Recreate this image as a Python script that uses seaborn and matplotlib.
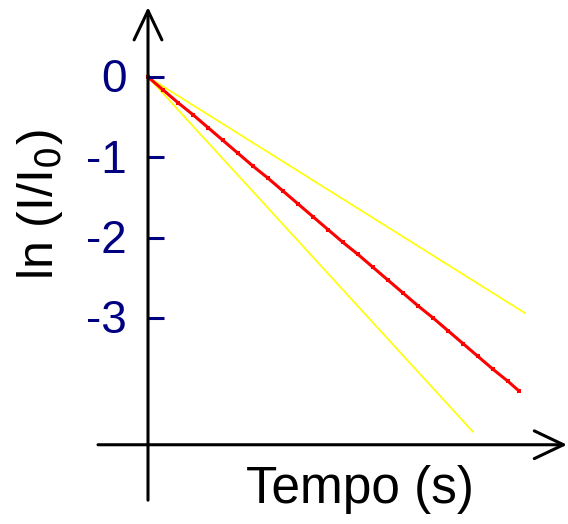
import matplotlib
matplotlib.use("Agg")
import matplotlib.pyplot as plt
import numpy as np
import pandas as pd
import seaborn as sns

# ---- data ----
tempo_red = [0.00, 0.15, 0.30, 0.45, 0.60, 0.75, 0.90, 1.05, 1.20, 1.35, 1.50, 1.65, 1.80,
             1.95, 2.10, 2.25, 2.40, 2.55, 2.70, 2.85, 3.00, 3.15, 3.30, 3.45, 3.60, 3.71]
ln_red = [0.00, -0.16, -0.32, -0.47, -0.63, -0.79, -0.95, -1.11, -1.26, -1.42, -1.58, -1.74, -1.90,
          -2.06, -2.21, -2.37, -2.53, -2.69, -2.85, -3.00, -3.16, -3.32, -3.48, -3.64, -3.79, -3.91]
tempo_upper = [0.00, 1.00, 2.00, 3.00, 3.77]
ln_upper = [0.00, -0.78, -1.56, -2.34, -2.94]
tempo_lower = [0.00, 1.00, 2.00, 3.00, 3.25]
ln_lower = [0.00, -1.36, -2.72, -4.08, -4.42]
yticks = [0, -1, -2, -3]
ytick_labels = ["0", "-1", "-2", "-3"]
xlabel = "Tempo (s)"
ylabel = r"ln (I/I$_0$)"

sns.set_style("white")
plt.rcParams["font.family"] = ["Liberation Sans", "DejaVu Sans"]
plt.rcParams["text.color"] = "black"

fig = plt.figure(figsize=(5.68, 5.24), dpi=100)
ax = fig.add_axes([0, 0, 1, 1])
ax.set_xlim(-1.48, 4.20)
ax.set_ylim(-5.567, 0.959)

sns.lineplot(x=tempo_upper, y=ln_upper, ax=ax, color="#ffff00", lw=1.2)
sns.lineplot(x=tempo_lower, y=ln_lower, ax=ax, color="#ffff00", lw=1.2)
sns.lineplot(x=tempo_red, y=ln_red, ax=ax, color="#ff0000", lw=2.2,
             marker="s", markersize=3.5, markeredgewidth=0)

for s in ax.spines.values():
    s.set_visible(False)

# axes with arrows
x_axis_y = -4.58
arrow_style = "->,head_length=2.1,head_width=1.0"
ax.annotate("", xy=(4.19, x_axis_y), xytext=(-0.50, x_axis_y),
            arrowprops=dict(arrowstyle=arrow_style,
                            lw=2.2, color="black", shrinkA=0, shrinkB=0))
ax.annotate("", xy=(0, 0.87), xytext=(0, -5.27),
            arrowprops=dict(arrowstyle=arrow_style,
                            lw=2.2, color="black", shrinkA=0, shrinkB=0))

ax.set_xticks([])
ax.set_yticks(yticks)
ax.set_yticklabels(ytick_labels)
ax.tick_params(axis="y", length=0)
for lab in ax.get_yticklabels():
    lab.set_visible(False)
for v, t in zip(yticks, ytick_labels):
    ax.plot([0, 0.16], [v, v], color="#000080", lw=2.2, solid_capstyle="butt")
    ax.text(-0.21, v - 0.04, t, ha="right", va="center", fontsize=33, color="#000080")

fig.text(360 / 568, 1 - 490 / 524, xlabel, ha="center", va="center", fontsize=37, color="black")
fig.text(40 / 568, 1 - 205 / 524, ylabel, ha="center", va="center", fontsize=36,
         rotation=90, color="black")

fig.savefig("out.png", dpi=100)
